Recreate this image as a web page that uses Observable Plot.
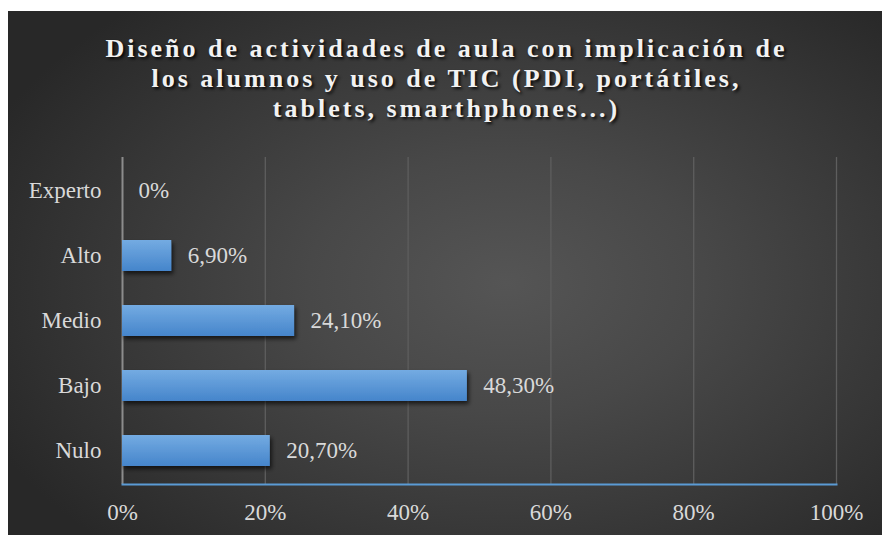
<!DOCTYPE html>
<html>
<head>
<meta charset="utf-8">
<script src="https://cdn.jsdelivr.net/npm/d3@7"></script>
<script src="https://cdn.jsdelivr.net/npm/@observablehq/plot@0.6"></script>
<style>
  html, body { margin: 0; padding: 0; background: #ffffff; }
  #chart {
    position: absolute; left: 8px; top: 11px; width: 874px; height: 524px;
    background: radial-gradient(ellipse 65% 70% at 57% 52%, #555555 0%, #484848 35%, #373737 70%, #282828 100%);
    overflow: hidden;
  }
  #title {
    height: 135px; box-sizing: border-box; padding-top: 23px; padding-left: 3px;
    text-align: center; font-family: "Liberation Serif", "Times New Roman", serif;
    font-weight: bold; font-size: 26px; line-height: 30px; letter-spacing: 3px;
    color: #f2f2f2; text-shadow: 2px 2px 3px rgba(0,0,0,0.85);
  }
  svg { display: block; }
</style>
</head>
<body>
<div id="chart">
  <div id="title">Diseño de actividades de aula con implicación de<br>los alumnos y uso de TIC (PDI, portátiles,<br>tablets, smarthphones...)</div>
</div>
<script>
const categories = ["Experto", "Alto", "Medio", "Bajo", "Nulo"];
const values = [0, 6.9, 24.1, 48.3, 20.7];
const xTicks = [0, 20, 40, 60, 80, 100];

const data = categories.map((c, i) => ({cat: c, value: values[i]}));
const fmt = v => v === 0 ? "0%" : v.toFixed(2).replace(".", ",") + "%";

const plot = Plot.plot({
  width: 874,
  height: 389,
  marginTop: 11,
  marginBottom: 51,
  marginLeft: 114,
  marginRight: 46,
  style: {background: "transparent", color: "#d9d9d9", fontFamily: "'Liberation Serif', 'Times New Roman', serif", fontSize: "23px"},
  x: {domain: [0, 100], ticks: xTicks, tickFormat: d => d + "%", tickSize: 0, tickPadding: 19, label: null},
  y: {domain: categories, paddingInner: 0.53, paddingOuter: 0.265, tickSize: 0, tickPadding: 21, label: null},
  marks: [
    Plot.gridX(xTicks.filter(d => d > 0), {stroke: "#5e5e5e", strokeOpacity: 1, strokeWidth: 1.3}),
    Plot.ruleX([0], {stroke: "#8c8c8c", strokeWidth: 2}),
    Plot.frame({anchor: "bottom", stroke: "#5b9bd5", strokeWidth: 2}),
    Plot.barX(data, {x: "value", y: "cat", fill: "url(#barGrad)", filter: d => d.value > 0}),
    Plot.text(data, {x: "value", y: "cat", text: d => fmt(d.value), dx: 16, textAnchor: "start", fill: "#d9d9d9", fontSize: 23})
  ]
});

// gradient + shadow defs
const ns = "http://www.w3.org/2000/svg";
const defs = document.createElementNS(ns, "defs");
defs.innerHTML = `
  <linearGradient id="barGrad" x1="0" y1="0" x2="0" y2="1">
    <stop offset="0" stop-color="#74abe2"/>
    <stop offset="1" stop-color="#4585cb"/>
  </linearGradient>
  <filter id="shadow" x="-10%" y="-30%" width="130%" height="180%">
    <feDropShadow dx="2" dy="3" stdDeviation="2.2" flood-color="#000" flood-opacity="0.65"/>
  </filter>`;
plot.insertBefore(defs, plot.firstChild);
plot.querySelectorAll("rect").forEach(r => {
  if (r.getAttribute("fill") === "url(#barGrad)" || (r.parentNode && r.parentNode.getAttribute("fill") === "url(#barGrad)")) {
    r.setAttribute("filter", "url(#shadow)");
  }
});
document.getElementById("chart").appendChild(plot);
</script>
</body>
</html>
